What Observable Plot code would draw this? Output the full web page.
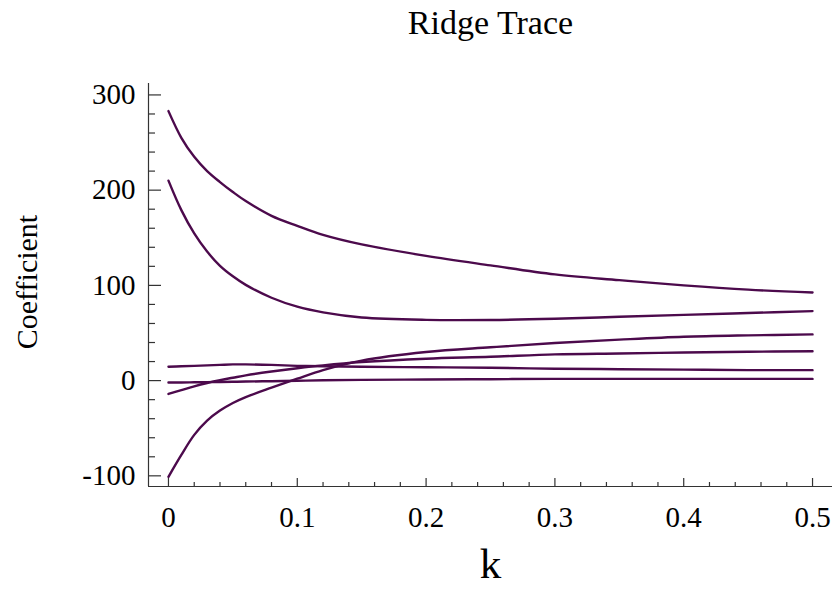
<!DOCTYPE html>
<html>
<head>
<meta charset="utf-8">
<script src="https://cdn.jsdelivr.net/npm/d3@7"></script>
<script src="https://cdn.jsdelivr.net/npm/@observablehq/plot@0.6"></script>
<style>
  html, body { margin: 0; padding: 0; background: #ffffff; }
</style>
</head>
<body>
<div id="chart"></div>
<script>
// ---- Data ----
const kValues = [0, 0.01, 0.02, 0.03, 0.04, 0.05, 0.06, 0.08, 0.1, 0.12, 0.15, 0.2, 0.25, 0.3, 0.35, 0.4, 0.45, 0.5];
const coefA = [283, 255, 235, 220, 208.5, 198, 188.5, 173, 162.5, 153, 143, 131, 121, 111.5, 105.5, 100, 95.5, 92.5];
const coefB = [210, 179, 154.5, 135.5, 120.5, 109.5, 100.5, 87, 77.6, 71.7, 66.3, 63.8, 63.7, 65, 67, 69, 71, 73];
const coefC = [-14, -10, -6, -2.5, 0.5, 3, 5.5, 9.5, 13, 16, 19.5, 23, 25, 27.5, 28.5, 29.5, 30.3, 30.8];
const coefD = [-101, -78, -57, -42, -31.5, -23.5, -17.3, -7.4, 2, 11, 21, 30, 35, 39.5, 43, 46, 47.5, 48.5];
const coefE = [14.5, 15, 15.5, 16, 16.5, 17, 17, 16.5, 15.5, 15, 14.5, 14, 13.5, 12.5, 12, 11.5, 11, 11];
const coefF = [-2, -2, -1.8, -1.6, -1.4, -1.2, -1, -0.6, -0.2, 0.3, 0.8, 1.2, 1.5, 1.8, 1.8, 1.8, 1.8, 1.8];
const seriesNames = ["b1", "b2", "b3", "b4", "b5", "b6"];
const seriesValues = [coefA, coefB, coefC, coefD, coefE, coefF];

const xTicks = [0, 0.1, 0.2, 0.3, 0.4, 0.5];
const xTickLabels = ["0", "0.1", "0.2", "0.3", "0.4", "0.5"];
const xMinorTicks = [0.02, 0.04, 0.06, 0.08, 0.12, 0.14, 0.16, 0.18, 0.22, 0.24, 0.26, 0.28,
                     0.32, 0.34, 0.36, 0.38, 0.42, 0.44, 0.46, 0.48];
const yTicks = [-100, 0, 100, 200, 300];
const yTickLabels = ["-100", "0", "100", "200", "300"];
const yMinorTicks = [-80, -60, -40, -20, 20, 40, 60, 80, 120, 140, 160, 180, 220, 240, 260, 280];

const titleText = "Ridge Trace";
const xLabel = "k";
const yLabel = "Coefficient";

const xDomain = [-0.0155, 0.5155];
const yDomain = [-111.2, 312];

// ---- Table for Plot ----
const rows = [];
seriesNames.forEach((name, s) => {
  kValues.forEach((k, i) => rows.push({series: name, k, value: seriesValues[s][i]}));
});

const serif = "'Liberation Serif', 'Times New Roman', serif";
const lineColor = "#4c0a4c";
const axisColor = "#333333";

const chart = Plot.plot({
  width: 832,
  height: 589,
  marginLeft: 148,
  marginRight: 0,
  marginTop: 83,
  marginBottom: 103,
  style: {fontFamily: serif, background: "#ffffff", color: "#000000", overflow: "visible"},
  x: {
    domain: xDomain,
    ticks: xTicks,
    tickSize: 0,
    tickPadding: 20,
    tickFormat: d => xTickLabels[xTicks.indexOf(d)],
    label: null
  },
  y: {
    domain: yDomain,
    ticks: yTicks,
    tickSize: 0,
    tickPadding: 13,
    tickFormat: d => yTickLabels[yTicks.indexOf(d)],
    label: null
  },
  marks: [
    // axis lines
    Plot.ruleX([xDomain[0]], {stroke: axisColor, strokeWidth: 1.2}),
    Plot.ruleY([yDomain[0]], {stroke: axisColor, strokeWidth: 1.2}),
    // y ticks (inward)
    Plot.ruleY(yTicks, {y: d => d, x1: () => xDomain[0], x2: () => xDomain[0], insetRight: -13, stroke: axisColor, strokeWidth: 1.2}),
    Plot.ruleY(yMinorTicks, {y: d => d, x1: () => xDomain[0], x2: () => xDomain[0], insetRight: -7, stroke: axisColor, strokeWidth: 1.2}),
    // x ticks (inward)
    Plot.ruleX(xTicks, {x: d => d, y1: () => yDomain[0], y2: () => yDomain[0], insetBottom: 8, stroke: axisColor, strokeWidth: 1.2}),
    Plot.ruleX(xMinorTicks, {x: d => d, y1: () => yDomain[0], y2: () => yDomain[0], insetBottom: 4, stroke: axisColor, strokeWidth: 1.2}),
    // curves
    Plot.line(rows, {x: "k", y: "value", z: "series", stroke: lineColor, strokeWidth: 2.4, curve: "catmull-rom"}),
    // title and axis labels
    Plot.text([titleText], {frameAnchor: "top", lineAnchor: "middle", dy: -60, fontSize: 34, fontFamily: serif, fill: "#000"}),
    Plot.text([xLabel], {frameAnchor: "bottom", lineAnchor: "middle", dy: 78, fontSize: 43, fontFamily: serif, fill: "#000"}),
    Plot.text([yLabel], {frameAnchor: "left", textAnchor: "middle", lineAnchor: "middle", rotate: -90, dx: -121, dy: -3, fontSize: 30, fontFamily: serif, fill: "#000"})
  ]
});

// tick label font size
chart.querySelectorAll("g[aria-label='x-axis tick label'], g[aria-label='y-axis tick label'], g[aria-label='x-axis'], g[aria-label='y-axis']").forEach(g => {
  g.setAttribute("font-size", "29");
  g.style.fontSize = "29px";
});

document.getElementById("chart").appendChild(chart);
</script>
</body>
</html>
